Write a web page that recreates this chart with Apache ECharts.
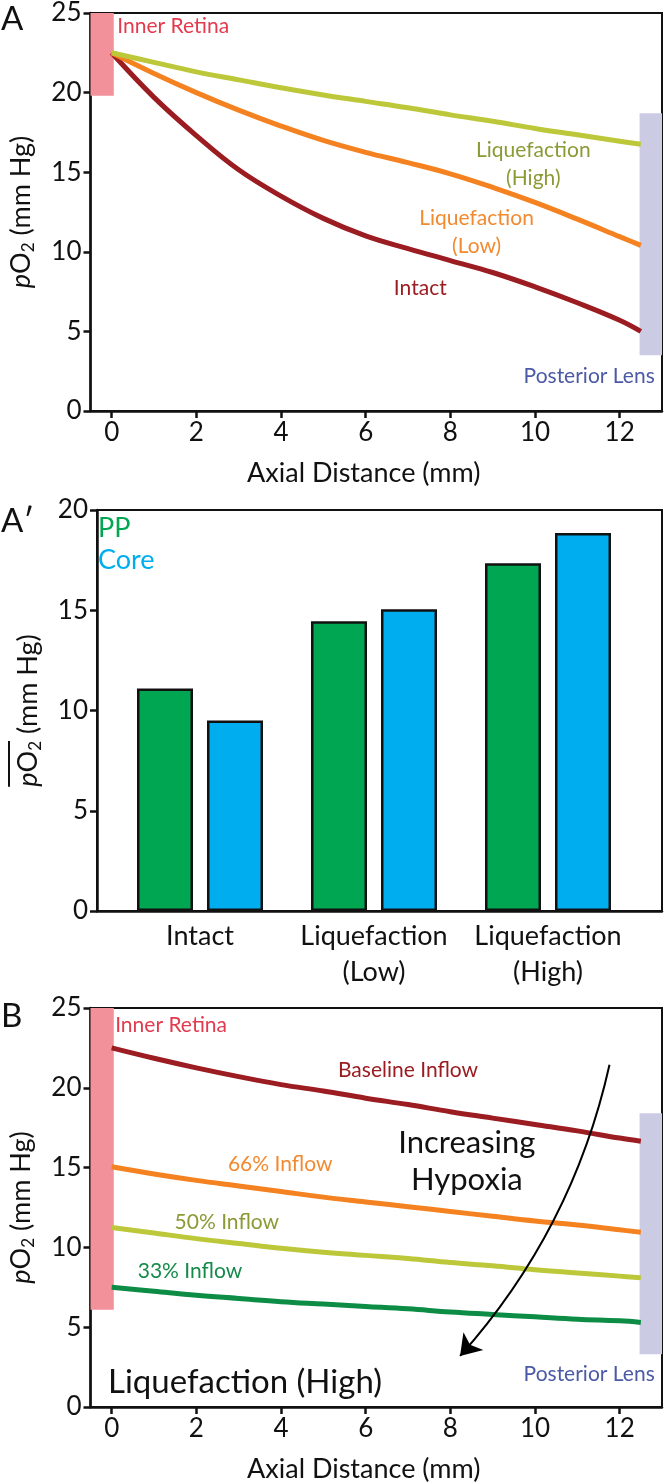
<!DOCTYPE html>
<html><head><meta charset="utf-8">
<script src="https://cdn.jsdelivr.net/npm/echarts@6/dist/echarts.min.js"></script>
<style>html,body{margin:0;padding:0;background:#fff}#c{width:664px;height:1484px}</style>
</head><body><div id="c"></div>
<script>
// ---------- data ----------
const xDist = [0, 1, 2, 3, 4, 5, 6, 7, 8, 9, 10, 11, 12, 12.5];
const xTicks = [0, 2, 4, 6, 8, 10, 12];
// Panel A
const intactA  = [22.5, 19.7, 17.3, 15.15, 13.5, 12.1, 11.0, 10.2, 9.45, 8.7, 7.8, 6.8, 5.7, 5.0];
const liqLowA  = [22.5, 21.2, 20.0, 18.9, 17.9, 17.0, 16.25, 15.6, 14.9, 14.05, 13.1, 12.05, 10.95, 10.4];
const liqHighA = [22.5, 21.9, 21.3, 20.8, 20.3, 19.85, 19.45, 19.05, 18.6, 18.2, 17.75, 17.35, 16.95, 16.75];
// Panel A'
const groups   = ['Intact', 'Liquefaction\n(Low)', 'Liquefaction\n(High)'];
const ppMean   = [11.1, 14.45, 17.35];
const coreMean = [9.5, 15.05, 18.85];
// Panel B
const baselineB = [22.5, 21.85, 21.25, 20.7, 20.2, 19.8, 19.35, 18.95, 18.5, 18.1, 17.7, 17.3, 16.85, 16.65];
const inflow66  = [15.05, 14.6, 14.2, 13.85, 13.5, 13.15, 12.85, 12.55, 12.25, 11.95, 11.65, 11.4, 11.1, 10.95];
const inflow50  = [11.25, 10.9, 10.55, 10.25, 9.95, 9.7, 9.5, 9.3, 9.05, 8.85, 8.6, 8.4, 8.2, 8.1];
const inflow33  = [7.5, 7.25, 7.0, 6.8, 6.6, 6.45, 6.3, 6.15, 5.95, 5.8, 5.65, 5.5, 5.4, 5.3];
// Tissue bands [xFrom, xTo, yFrom, yTo]
const retinaA = [-0.5, 0.05, 19.8, 25];
const lensA   = [12.47, 13, 3.5, 18.7];
const retinaB = [-0.5, 0.05, 6.1, 25];
const lensB   = [12.47, 13, 3.3, 18.4];

// ---------- style ----------
const FONT = 'Lato, "Liberation Sans", sans-serif';
const INK = '#111';
const C = {
  red: '#9b1c21', orange: '#f58220', olive: '#bcc83a', green: '#0c8c45',
  oliveText: '#8c9a35', orangeText: '#f28a30', greenText: '#148a4a',
  pink: '#f3919b', lav: '#cccbe4', retinaText: '#e23b4e', lensText: '#4c5aa5',
  pp: '#00a651', core: '#00aeef'
};
const pair = (xs, ys) => xs.map((x, i) => [x, ys[i]]);
function tw(text, size, style) {
  const c = document.createElement('canvas').getContext('2d');
  c.font = (style || '') + ' ' + size + 'px ' + FONT;
  return c.measureText(text).width;
}
const NS = 27, SS = 17, TS = 26;
const richBase = {
  n: {fontSize: NS, fontFamily: FONT, color: INK, lineHeight: 32},
  i: {fontSize: NS, fontFamily: FONT, fontStyle: 'italic', color: INK, lineHeight: 32},
  s: {fontSize: SS, fontFamily: FONT, color: INK, lineHeight: 18, verticalAlign: 'bottom'}
};
const w1 = tw('p', NS, 'italic') + tw('O', NS) + tw('2', SS);
const w2 = tw(' (mm Hg)', NS);
const richBar = Object.assign({}, richBase, {
  ol: {width: w1, height: 2, backgroundColor: INK, fontSize: 1, lineHeight: 6},
  os: {width: w2, height: 2, fontSize: 1, lineHeight: 6}
});
const yNameStr = '{i|p}{n|O}{s|2}{n| (mm Hg)}';

function distAxis(gi) {
  return {
    type: 'value', gridIndex: gi, min: -0.5, max: 13,
    name: 'Axial Distance (mm)', nameLocation: 'middle', nameGap: 49,
    nameTextStyle: {fontSize: NS, color: INK, fontFamily: FONT, padding: [0, 25, 0, 0]},
    axisLine: {show: true, onZero: false, lineStyle: {color: INK, width: 2.5}},
    axisTick: {show: true, length: 7, customValues: xTicks, lineStyle: {color: INK, width: 2.5}},
    axisLabel: {customValues: xTicks, fontSize: TS, color: INK, margin: 9, fontFamily: FONT},
    splitLine: {show: false}
  };
}
function poAxis(gi, max, name, rich) {
  return {
    type: 'value', gridIndex: gi, min: 0, max: max, interval: 5,
    name: name, nameLocation: 'middle', nameGap: 53,
    nameTextStyle: {rich: rich, align: 'center'},
    axisLine: {show: true, onZero: false, lineStyle: {color: INK, width: 2.5}},
    axisTick: {show: true, length: 7, lineStyle: {color: INK, width: 2.5}},
    axisLabel: {fontSize: TS, color: INK, margin: 9, fontFamily: FONT},
    splitLine: {show: false}
  };
}
function curve(name, xi, ys, color, extra) {
  return Object.assign({
    type: 'line', name: name, xAxisIndex: xi, yAxisIndex: xi,
    data: pair(xDist, ys), smooth: 0.4,
    symbol: 'none', lineStyle: {color: color, width: 5}, z: 3, silent: true
  }, extra || {});
}
function band(b, color) {
  return [{xAxis: b[0], yAxis: b[2], itemStyle: {color: color}}, {xAxis: b[1], yAxis: b[3]}];
}
function textLayer(xi, items) {
  return {
    type: 'scatter', xAxisIndex: xi, yAxisIndex: xi, symbolSize: 1, silent: true, z: 5,
    itemStyle: {color: 'rgba(0,0,0,0)', opacity: 1},
    data: items.map(t => ({
      name: t.text, value: t.at,
      label: {
        show: true, formatter: '{b}', position: t.pos || 'inside', distance: 0, opacity: 1,
        color: t.color, fontSize: t.size, fontFamily: FONT, lineHeight: t.lh || Math.round(t.size * 1.3),
        textBorderWidth: 0, align: t.align || 'center'
      }
    }))
  };
}

const option = {
  animation: false,
  backgroundColor: '#fff',
  title: [
    {text: 'A', left: 1, top: 3, padding: 0, textStyle: {fontSize: 33, fontWeight: 'normal', color: INK, fontFamily: FONT}},
    {text: 'A\u2032', left: 1, top: 505, padding: 0, textStyle: {fontSize: 33, fontWeight: 'normal', color: INK, fontFamily: FONT}},
    {text: 'B', left: 1, top: 1000, padding: 0, textStyle: {fontSize: 33, fontWeight: 'normal', color: INK, fontFamily: FONT}}
  ],
  legend: {
    data: [{name: 'PP', textStyle: {color: C.pp}}, {name: 'Core', textStyle: {color: C.core}}],
    orient: 'vertical', left: 87, top: 510, itemWidth: 0, itemHeight: 0, itemGap: 5,
    selectedMode: false, icon: 'rect',
    textStyle: {fontSize: 27, lineHeight: 27, fontFamily: FONT}
  },
  grid: [
    {left: 87, top: 10, width: 575, height: 401, show: true, borderColor: INK, borderWidth: 2},
    {left: 87, top: 510, width: 575, height: 401, show: true, borderColor: INK, borderWidth: 2},
    {left: 113, top: 510, width: 522, height: 401},
    {left: 87, top: 1008, width: 575, height: 400, show: true, borderColor: INK, borderWidth: 2}
  ],
  xAxis: [
    distAxis(0),
    {type: 'value', gridIndex: 1, min: 0, max: 1, axisLine: {show: true, onZero: false, lineStyle: {color: INK, width: 2.5}},
     axisTick: {show: false}, axisLabel: {show: false}, splitLine: {show: false}},
    {type: 'category', gridIndex: 2, data: groups, axisLine: {show: false}, axisTick: {show: false},
     axisLabel: {fontSize: 27, lineHeight: 36, margin: 7, color: INK, fontFamily: FONT, interval: 0}},
    distAxis(3)
  ],
  yAxis: [
    poAxis(0, 25, yNameStr, richBase),
    poAxis(1, 20, '{ol| }{os| }\n' + yNameStr, richBar),
    {type: 'value', gridIndex: 2, min: 0, max: 20, show: false},
    poAxis(3, 25, yNameStr, richBase)
  ],
  series: [
    curve('Intact', 0, intactA, C.red, {
      markArea: {silent: true, data: [band(retinaA, C.pink), band(lensA, C.lav)]}
    }),
    curve('Liquefaction (Low)', 0, liqLowA, C.orange),
    curve('Liquefaction (High)', 0, liqHighA, C.olive),
    textLayer(0, [
      {text: 'Inner Retina', at: [0.12, 24.15], color: C.retinaText, size: 21, pos: 'right', align: 'left'},
      {text: 'Liquefaction\n(High)', at: [9.96, 15.47], color: C.oliveText, size: 21, lh: 28},
      {text: 'Liquefaction\n(Low)', at: [8.62, 11.2], color: C.orangeText, size: 21, lh: 28},
      {text: 'Intact', at: [7.29, 7.7], color: C.red, size: 21},
      {text: 'Posterior Lens', at: [12.84, 2.16], color: C.lensText, size: 21, pos: 'left', align: 'right'}
    ]),
    {type: 'bar', name: 'PP', xAxisIndex: 2, yAxisIndex: 2, data: ppMean, barWidth: 56, barGap: '25%',
     itemStyle: {color: C.pp, borderColor: INK, borderWidth: 2.5}, silent: true},
    {type: 'bar', name: 'Core', xAxisIndex: 2, yAxisIndex: 2, data: coreMean, barWidth: 56, barGap: '25%',
     itemStyle: {color: C.core, borderColor: INK, borderWidth: 2.5}, silent: true},
    curve('Baseline Inflow', 3, baselineB, C.red, {
      markArea: {silent: true, data: [band(retinaB, C.pink), band(lensB, C.lav)]}
    }),
    curve('66% Inflow', 3, inflow66, C.orange),
    curve('50% Inflow', 3, inflow50, C.olive),
    curve('33% Inflow', 3, inflow33, C.green),
    {type: 'lines', coordinateSystem: 'cartesian2d', xAxisIndex: 3, yAxisIndex: 3, silent: true, z: 6,
     symbol: ['none', 'arrow'], symbolSize: [0, 20],
     lineStyle: {color: '#000', width: 2, curveness: 0.13, opacity: 1},
     data: [{coords: [[11.76, 21.45], [8.23, 3.2]]}]},
    textLayer(3, [
      {text: 'Inner Retina', at: [0.07, 23.9], color: C.retinaText, size: 21, pos: 'right', align: 'left'},
      {text: 'Baseline Inflow', at: [7.0, 21.1], color: C.red, size: 21},
      {text: '66% Inflow', at: [3.98, 15.2], color: C.orangeText, size: 21},
      {text: '50% Inflow', at: [2.72, 11.55], color: C.oliveText, size: 21},
      {text: '33% Inflow', at: [1.85, 8.5], color: C.greenText, size: 21},
      {text: 'Increasing\nHypoxia', at: [8.39, 15.4], color: INK, size: 31, lh: 37},
      {text: 'Liquefaction (High)', at: [3.15, 1.56], color: INK, size: 33},
      {text: 'Posterior Lens', at: [12.84, 2.06], color: C.lensText, size: 21, pos: 'left', align: 'right'}
    ])
  ]
};
const chart = echarts.init(document.getElementById('c'), null, {renderer: 'canvas'});
chart.setOption(option);
</script></body></html>
